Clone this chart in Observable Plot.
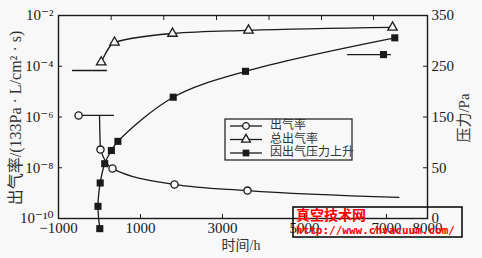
<!DOCTYPE html>
<html><head><meta charset="utf-8">
<script src="https://cdn.jsdelivr.net/npm/d3@7"></script>
<script src="https://cdn.jsdelivr.net/npm/@observablehq/plot@0.6"></script>
<style>
html,body{margin:0;padding:0;background:#f8f8f8;}
#chart{position:relative;width:482px;height:258px;}
</style></head><body><div id="chart"></div>
<script>
// ---- 出气率 (left axis, log) ----
const rateX = [-510, 24, 317, 1829, 3610];
const rateY = [1.15e-6, 5.2e-8, 9.3e-9, 2.2e-9, 1.26e-9];
const rateCurveX = [0, 24, 317, 1829, 3610, 7300];
const rateCurveY = [1.15e-6, 5.2e-8, 9.3e-9, 2.2e-9, 1.26e-9, 6.8e-10];
const rateRefX = [-580, 340];
const rateRefY = [1.15e-6, 1.15e-6];
// ---- 总出气率 (left axis, log) ----
const totalX = [41, 366, 1780, 3634, 7146];
const totalY = [1.45e-4, 8.7e-4, 1.95e-3, 2.6e-3, 3.4e-3];
const totalRefX = [-659, 171];
const totalRefY = [6.8e-5, 6.8e-5];
// ---- 因出气压力上升 (right axis, Pa) ----
const pressX = [7, -37, 17, 127, 290, 449, 1798, 3561, 7202];
const pressY = [-70, -26, 20, 58, 84, 102, 189, 240, 306];
const pressRefX = [6049, 7098];
const pressRefY = [273, 273];
const pressMarkX = [6927];
const pressMarkY = [273];
// ---- ticks ----
const leftTicks = [1e-10, 1e-8, 1e-6, 1e-4, 1e-2];
const leftTickLabels = ["10\u207B\u00B9\u2070", "10\u207B\u2078", "10\u207B\u2076", "10\u207B\u2074", "10\u207B\u00B2"];
const rightTicks = [-50, 50, 150, 250, 350];
const rightTickLabels = ["0", "50", "150", "250", "350"];
const xTicks = [-1000, 1000, 3000, 5000, 7000, 8000];
const xTickLabels = ["\u22121000", "1000", "3000", "5000", "7000", "8000"];
const topTicks = [285, 1568, 2854, 4134, 5415, 6683];
// ---- texts ----
const yLeftTitle = "出气率/(133Pa · L/cm² · s)";
const yRightTitle = "压力/Pa";
const xTitle = "时间/h";
const seriesNames = ["出气率", "总出气率", "因出气压力上升"];

// right axis (linear Pa) expressed on the left log scale
const toLeft = v => Math.pow(10, -2 - (350 - v) / 50);
const leftMap = new Map(leftTicks.map((t, i) => [t, leftTickLabels[i]]));
const rightT = rightTicks.map(toLeft);
const rightMap = new Map(rightT.map((t, i) => [t, rightTickLabels[i]]));
const xMap = new Map(xTicks.map((t, i) => [t, xTickLabels[i]]));

const BG = "#f8f8f8", INK = "#1a1a1a";
const serif = "'Liberation Serif','DejaVu Serif','Noto Sans CJK SC',serif";
const n = a => ({length: a.length});

const plot = Plot.plot({
  width: 482, height: 258,
  marginLeft: 58, marginRight: 55, marginTop: 15, marginBottom: 40,
  style: {background: "transparent", fontFamily: serif, fontSize: "15px", color: INK},
  x: {domain: [-1000, 8000], label: null},
  y: {type: "log", domain: [1e-10, 1e-2], label: null},
  marks: [
    Plot.axisY(leftTicks, {anchor: "left", tickSize: -4, tickPadding: 9, tickFormat: d => leftMap.get(d), fontSize: 15, label: null, stroke: INK}),
    Plot.axisY(rightT, {anchor: "right", tickSize: -5, tickPadding: 9, tickFormat: d => rightMap.get(d), fontSize: 15, label: null, stroke: INK}),
    Plot.axisX(xTicks, {anchor: "bottom", tickSize: -4, tickPadding: 8, tickFormat: d => xMap.get(d), fontSize: 15, label: null, stroke: INK}),
    Plot.axisX(topTicks, {anchor: "top", tickSize: -4, tickFormat: () => "", label: null, stroke: INK}),
    Plot.frame({stroke: INK, strokeWidth: 1.4}),
    // 出气率
    Plot.line(n(rateRefX), {x: rateRefX, y: rateRefY, stroke: INK, strokeWidth: 1.3}),
    Plot.line(n(rateCurveX), {x: rateCurveX, y: rateCurveY, curve: "monotone-x", stroke: INK, strokeWidth: 1.3}),
    Plot.dot(n(rateX), {x: rateX, y: rateY, r: 3.6, stroke: INK, fill: BG, strokeWidth: 1.3}),
    // 总出气率
    Plot.line(n(totalRefX), {x: totalRefX, y: totalRefY, stroke: INK, strokeWidth: 1.3}),
    Plot.line(n(totalX), {x: totalX, y: totalY, curve: "monotone-x", stroke: INK, strokeWidth: 1.3}),
    Plot.dot(n(totalX), {x: totalX, y: totalY, symbol: "triangle", r: 3.5, stroke: INK, fill: BG, strokeWidth: 1.3}),
    // 因出气压力上升
    Plot.line(n(pressRefX), {x: pressRefX, y: pressRefY.map(toLeft), stroke: INK, strokeWidth: 1.3}),
    Plot.line(n(pressX), {x: pressX, y: pressY.map(toLeft), curve: "catmull-rom", stroke: INK, strokeWidth: 1.3}),
    Plot.dot(n(pressX), {x: pressX, y: pressY.map(toLeft), symbol: "square", r: 4, fill: INK, stroke: "none"}),
    Plot.dot(n(pressMarkX), {x: pressMarkX, y: pressMarkY.map(toLeft), symbol: "square", r: 4, fill: INK, stroke: "none"})
  ]
});
document.getElementById("chart").appendChild(plot);

const svg = d3.select(plot);
// axis titles
svg.append("text").attr("transform", "translate(17,118) rotate(-90)")
  .attr("text-anchor", "middle").attr("dominant-baseline", "middle")
  .attr("font-family", serif).attr("font-size", 16).attr("fill", "#333").text(yLeftTitle);
svg.append("text").attr("transform", "translate(466,118) rotate(-90)")
  .attr("text-anchor", "middle").attr("dominant-baseline", "middle")
  .attr("font-family", serif).attr("font-size", 15).attr("fill", "#333").text(yRightTitle);
svg.append("text").attr("x", 241).attr("y", 247)
  .attr("text-anchor", "middle").attr("dominant-baseline", "middle")
  .attr("font-family", serif).attr("font-size", 14).attr("fill", "#333").text(xTitle);

// legend
const lg = svg.append("g");
lg.append("rect").attr("x", 225).attr("y", 119).attr("width", 127).attr("height", 41)
  .attr("fill", "none").attr("stroke", INK).attr("stroke-width", 1.2);
const rows = [126, 139.5, 153];
const syms = [d3.symbolCircle, d3.symbolTriangle, d3.symbolSquare];
const sizes = [Math.PI * 3.3 * 3.3, Math.PI * 3.3 * 3.3, Math.PI * 3.8 * 3.8];
rows.forEach((y, i) => {
  lg.append("line").attr("x1", 230).attr("x2", 262).attr("y1", y).attr("y2", y)
    .attr("stroke", INK).attr("stroke-width", 1.3);
  lg.append("path").attr("d", d3.symbol(syms[i], sizes[i])())
    .attr("transform", `translate(246,${y})`)
    .attr("fill", i === 2 ? INK : BG).attr("stroke", i === 2 ? "none" : INK).attr("stroke-width", 1.3);
  lg.append("text").attr("x", 270).attr("y", y).attr("text-anchor", "start").attr("dominant-baseline", "middle")
    .attr("font-family", "'Noto Sans CJK SC',sans-serif").attr("font-size", 12).attr("fill", "#333")
    .text(seriesNames[i]);
});

// watermark
const wm = svg.append("g").attr("text-anchor", "start");
wm.append("rect").attr("x", 293).attr("y", 207).attr("width", 169).attr("height", 30)
  .attr("fill", "none").attr("stroke", "#000").attr("stroke-width", 1.5);
wm.append("text").attr("x", 296).attr("y", 220).attr("text-anchor", "start").attr("font-family", "'Noto Sans CJK SC',sans-serif")
  .attr("font-weight", "bold").attr("font-size", 14).attr("fill", "#f00").text("真空技术网");
wm.append("text").attr("x", 296).attr("y", 234).attr("text-anchor", "start").attr("font-family", "'DejaVu Sans Mono',monospace")
  .attr("font-weight", "bold").attr("font-size", 11).attr("fill", "#f00").text("http://www.chvacuum.com/");
</script></body></html>
